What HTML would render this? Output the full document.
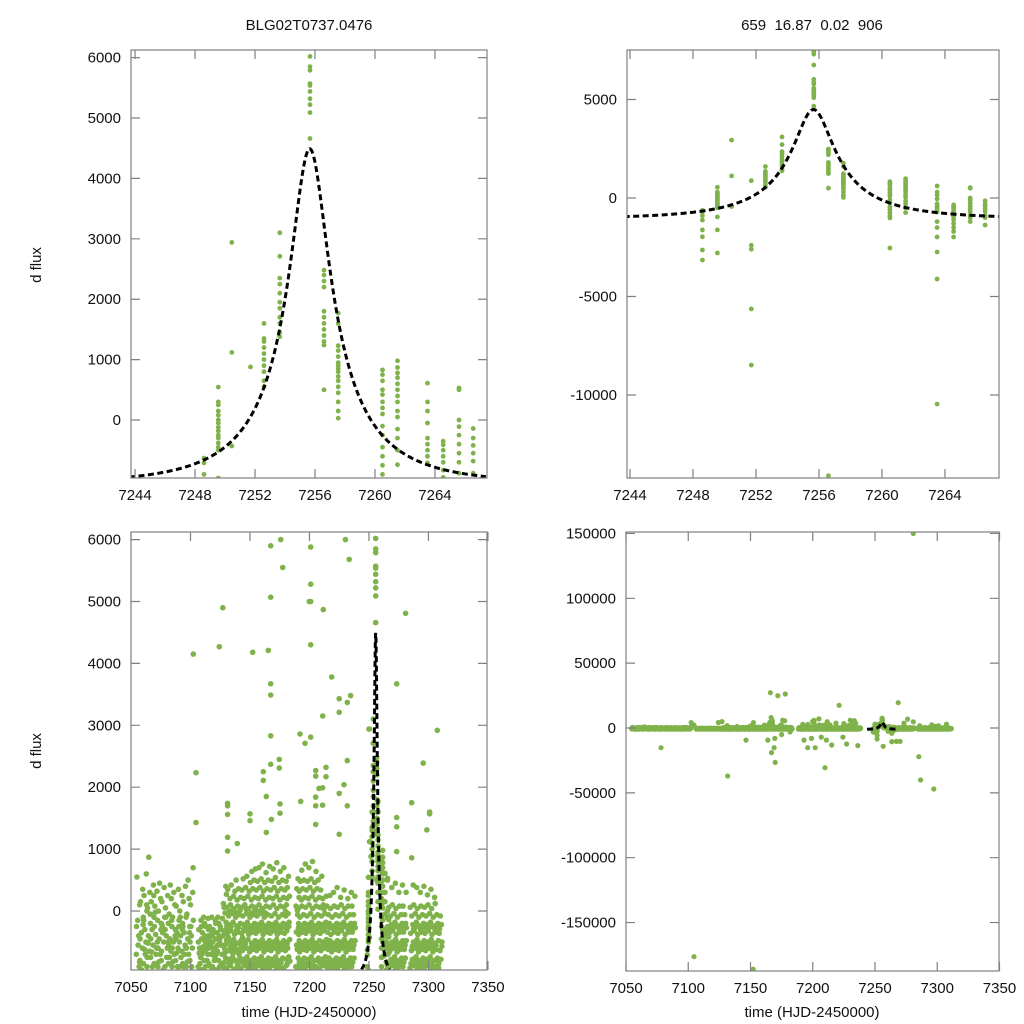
<!DOCTYPE html>
<html><head><meta charset="utf-8"><title>BLG02T0737.0476</title>
<style>
html,body{margin:0;padding:0;background:#fff;overflow:hidden;width:1024px;height:1024px;}
svg{display:block;font-family:"Liberation Sans",Arial,sans-serif;}
</style></head>
<body>
<svg id="chart" width="1024" height="1024" viewBox="0 0 1024 1024" xmlns="http://www.w3.org/2000/svg">
<rect x="0" y="0" width="1024" height="1024" fill="#fff"/>
<text x="309" y="30" text-anchor="middle" font-size="15" fill="#111">BLG02T0737.0476</text>
<text x="812" y="30" text-anchor="middle" font-size="15" fill="#111" xml:space="preserve">659  16.87  0.02  906</text>
<text transform="translate(41,265) rotate(-90)" text-anchor="middle" font-size="15" fill="#111">d flux</text>
<text transform="translate(41,751) rotate(-90)" text-anchor="middle" font-size="15" fill="#111">d flux</text>
<text x="309" y="1017" text-anchor="middle" font-size="15" fill="#111">time (HJD-2450000)</text>
<text x="812" y="1017" text-anchor="middle" font-size="15" fill="#111">time (HJD-2450000)</text>
</svg>
<script>
// ---------- data ----------
const eventTimes = [7248.6,7249.55,7250.45,7251.7,7252.6,7253.65,7255.67,7256.6,7257.55,7260.5,7261.5,7263.5,7264.55,7265.6,7266.55];
const eventFlux = [
 [-630,-710,-900,-1120,-1620,-1970,-2640,-3150],
 [545,300,250,150,80,0,-50,-120,-180,-250,-300,-380,-450,-500,-960,-1620,-2790],
 [2940,1120,-430],
 [880,-2400,-2600,-5630,-8480],
 [1600,1350,1300,1200,1100,1000,900,800,650,550],
 [3100,2710,2350,2250,2100,1950,1850,1700,1600,1450,1380],
 [7500,7420,7300,6750,6020,5850,5790,5570,5540,5440,5320,5220,5090,4660],
 [2480,2400,2300,2200,1800,1700,1600,1500,1400,1300,1240,500,-14100],
 [1770,1600,1230,1150,1050,950,900,850,800,720,650,550,450,300,150,30],
 [830,750,650,500,420,300,200,100,-100,-250,-450,-600,-750,-900,-1010,-2540],
 [980,870,780,700,600,500,400,300,150,50,-150,-300,-500,-740],
 [610,300,150,-50,-300,-400,-500,-600,-710,-1200,-1500,-1980,-2740,-4110,-10460],
 [-350,-410,-500,-600,-700,-830,-950,-1100,-1300,-1500,-1700,-1980],
 [530,500,0,-110,-250,-400,-550,-700,-880,-1000,-1200],
 [-140,-300,-420,-550,-680,-880,-1000,-1370]
];
const seasonTimes = [7056,7059,7062,7065,7068,7071,7074,7077,7080,7083,7086,7089,7092,7095,7098,7101,
 7108,7111,7114,7117,7120,7123,7126,
 7129,7132,7135,7138,7141,7144,7147,7150,7153,7156,7159,7162,7165,7168,7171,7174,7177,7180,7182,
 7190,7192,7195,7198,7201,7204,7207,7210,7213,
 7216,7219,7222,7225,7228,7231,7234,7237,
 7268,7271,7274,7277,7280,
 7286,7289,7292,7295,7298,7301,7304,7307,7310,7313];
const seasonFlux = [
 [-700,-400,-150,100,550,-900,-550,-250,-820],
 [-800,-600,-350,-100,150,350,-950,-450,-220],
 [-850,-500,-300,0,250,600,-700,-150,100,-620],
 [-900,-650,-400,-200,50,300,870,-750,-50,-520],
 [-750,-550,-300,-100,150,420,-900,-450,250,-660],
 [-850,-600,-380,-150,80,320,-700,-250,-500,-20],
 [-900,-700,-450,-200,0,200,450,-600,-300,-820],
 [-800,-500,-350,-100,150,380,-950,-650,-15200,-240],
 [-900,-600,-400,-200,50,250,-750,-300,-500,-100],
 [-850,-650,-450,-250,-50,200,420,-550,-150,-750],
 [-900,-700,-500,-300,-100,100,300,-600,-400,-820],
 [-800,-600,-350,-150,80,350,-900,-450,-250,-680],
 [-900,-650,-400,-200,0,250,-750,-500,-300,-100],
 [-850,-550,-350,-100,150,400,-700,-250,-600,-900],
 [-900,-700,-450,-250,-50,200,500,-600,-350,-820],
 [-800,-600,-400,-150,100,300,-900,-500,700,-250],
 [-900,-750,-600,-450,-300,-150,-850,-500,-250,-680],
 [-950,-800,-650,-500,-350,-200,-100,-700,-400,-580],
 [-900,-700,-550,-400,-250,-120,-800,-450,-300,-620],
 [-850,-700,-550,-400,-250,-100,-900,-600,-350,-480],
 [-900,-750,-600,-450,-300,-150,-800,-500,-200,-660],
 [-950,-800,-650,-500,-350,-200,-100,-700,-400,-560],
 [-900,-700,-550,-400,-250,-120,-850,-450,4900,-300],
 [-900,-760,-610,-470,-320,-180,-30,120,270,-830,-540,-250,60,400,-680],
 [-920,-780,-640,-500,-360,-220,-80,60,200,350,-850,-570,-290,-10,-430],
 [-880,-740,-600,-460,-320,-180,-40,100,240,420,-810,-530,-250,30,-660],
 [-940,-800,-660,-520,-380,-240,-100,40,180,320,500,-870,-590,-310,-20],
 [-900,-760,-620,-480,-340,-200,-60,80,220,360,-830,-550,-270,10,-700],
 [-920,-780,-640,-500,-360,-220,-80,60,200,340,520,-850,-570,-290,-430],
 [-880,-740,-600,-460,-320,-180,-40,100,240,380,560,-810,-530,-250,30],
 [-940,-800,-660,-520,-380,-240,-100,40,180,320,460,640,-870,-590,-310,-30],
 [-900,-760,-620,-480,-340,-200,-60,80,220,360,500,680,-830,-550,-270,10],
 [-920,-780,-640,-500,-360,-220,-80,60,200,340,480,700,-850,-570,-290,-10],
 [-880,-740,-600,-460,-320,-180,-40,100,240,380,520,760,-810,-530,-250,30],
 [-940,-800,-660,-520,-380,-240,-100,40,180,320,460,620,-870,-590,-310,-30],
 [-900,-760,-620,-480,-340,-200,-60,80,220,360,500,720,-830,-550,-270,27200,-9300],
 [-920,-780,-640,-500,-360,-220,-80,60,200,340,480,680,-850,-570,-290,-15200,-19000,8000],
 [-880,-740,-600,-460,-320,-180,-40,100,240,380,540,780,-810,-530,-250,24900,-26500,-8000],
 [-940,-800,-660,-520,-380,-240,-100,40,180,320,460,640,-870,-590,-310,-5000],
 [-900,-760,-620,-480,-340,-200,-60,80,220,360,500,700,-830,-550,-270,26200,6000],
 [-920,-780,-640,-500,-360,-220,-80,60,200,340,480,-850,-570,-290,-10],
 [-880,-740,-600,-460,-320,-180,-40,100,240,380,560,-810,-530,-250,-3000],
 [-900,-760,-620,-480,-340,-200,-60,80,220,360,520,-830,-550,-270,10],
 [-940,-800,-660,-520,-380,-240,-100,40,180,320,480,660,-870,-590,-310,-9300],
 [-900,-760,-620,-480,-340,-200,-60,80,220,360,500,760,-830,-550,-270,-15200],
 [-920,-780,-640,-500,-360,-220,-80,60,200,340,480,700,-850,-570,-290,-8000],
 [-880,-740,-600,-460,-320,-180,-40,100,240,380,520,800,-810,-530,-250,-15200,5000],
 [-940,-800,-660,-520,-380,-240,-100,40,180,320,460,640,-870,-590,-310,7000],
 [-900,-760,-620,-480,-340,-200,-60,80,220,360,500,-830,-550,-270,-7000],
 [-920,-780,-640,-500,-360,-220,-80,60,200,340,560,-850,-570,-290,-30600,-9300],
 [-880,-740,-600,-460,-320,-180,-40,100,240,-810,-530,-250,30],
 [-900,-760,-620,-480,-340,-200,-60,80,250,-830,-550,-270,-13100],
 [-940,-800,-660,-520,-380,-240,-100,40,300,-870,-590,-310],
 [-900,-760,-620,-480,-340,-200,-60,80,380,-830,-550,-270,17500],
 [-920,-780,-640,-500,-360,-220,-80,60,220,-850,-570,-290,-7000],
 [-880,-740,-600,-460,-320,-180,-40,100,340,-810,-530,-250,-12300],
 [-940,-800,-660,-520,-380,-240,-100,40,200,-870,-590,-310,6000],
 [-900,-760,-620,-480,-340,-200,-60,80,300,-830,-550,-270],
 [-900,-760,-620,-480,-340,-200,-60,80,240,-830,-550,-270,-13600],
 [-920,-780,-640,-500,-360,-220,-80,60,380,-850,-570,-290,-10300,19500],
 [-880,-740,-600,-460,-320,-180,-40,100,450,-810,-530,-250,-10300],
 [-940,-800,-660,-520,-380,-240,-100,40,300,-870,-590,-310],
 [-900,-760,-620,-480,-340,-200,-60,80,420,-830,-550,-270,6900],
 [-900,-760,-620,-480,-340,-200,-60,80,300,-830,-550,-270],
 [-920,-780,-640,-500,-360,-220,-80,60,420,-850,-570,-290,-22100,-40100],
 [-880,-740,-600,-460,-320,-180,-40,100,380,-810,-530,-250],
 [-940,-800,-660,-520,-380,-240,-100,40,300,-870,-590,-310],
 [-900,-760,-620,-480,-340,-200,-60,80,400,-830,-550,-270],
 [-920,-780,-640,-500,-360,-220,-80,60,260,-850,-570,-290,-47000],
 [-880,-740,-600,-460,-320,-180,-40,100,350,-810,-530,-250],
 [-940,-800,-660,-520,-380,-240,-100,40,220,-870,-590,-310],
 [-900,-760,-620,-480,-340,-200,-60,120,-830,-550,-270],
 [-920,-780,-640,-500,-360,-220,-80,-850,-570,-290]
];
const outlierTimes = [7102.4,7104.6,7104.6,7124.2,7152.3,7165.4,7167.4,7167.4,7167.4,7167.4,7167.4,7167.4,7177.5,7161.2,7161.2,7163.7,7174.6,7174.6,7131.2,7131.2,7131.2,7131.2,7131.2,7139.3,7150,7150,7175.2,7175.2,7168,7163.7,7192,7196.2,7192.6,7201,7201,7201,7201,7201,7211.6,7205.2,7205.2,7213.9,7213.9,7208,7211,7205.2,7205.2,7211,7205.2,7218.7,7211.1,7225,7225,7231.8,7234.6,7233.4,7231.8,7229,7225,7231.8,7225,7250,7273.3,7280.8,7307.4,7295.6,7285.9,7273.3,7273.3,7301,7301,7298.6,7273.3,7285.9,7280.8,7104.6,7152.2,7131.7,7146.4];
const outlierFlux = [4150,2235,1430,4270,4180,4210,5900,5070,3670,3490,2830,2370,5550,2250,2110,1850,2450,2310,1740,1560,1700,1190,970,1090,1570,1460,1730,1580,1480,1270,2860,2710,1770,5880,5280,5000,4300,2810,4870,2270,2180,2320,2170,1980,1990,1840,1700,1710,1400,3780,3150,3430,3210,3370,3480,5680,2430,2040,1900,1700,1240,2940,3670,4810,2920,2390,1750,1510,1360,1600,1570,1310,960,860,150000,-176300,-186000,-37000,-9300];
// model: Paczynski fit parameters
const modelT0 = 7255.65, modelU0 = 0.2, modelTE = 6.6, modelFs = 1360, modelBase = -1050;
const modelRange = [7243.6, 7267.4];
// tick labels
const zoomXTicks = [7244,7248,7252,7256,7260,7264];
const tlYTicks = [0,1000,2000,3000,4000,5000,6000];
const trYTicks = [-10000,-5000,0,5000];
const fullXTicks = [7050,7100,7150,7200,7250,7300,7350];
const blYTicks = [0,1000,2000,3000,4000,5000,6000];
const brYTicks = [-150000,-100000,-50000,0,50000,100000,150000];

// ---------- drawing ----------
const NS = 'http://www.w3.org/2000/svg';
const svg = document.getElementById('chart');
function mk(tag, attrs, parent){ const e = document.createElementNS(NS, tag); for (const k in attrs) e.setAttribute(k, attrs[k]); (parent||svg).appendChild(e); return e; }
function lin(d0,d1,r0,r1){ return v => r0 + (v-d0)/(d1-d0)*(r1-r0); }
function modelFlux(t){ const tau=(t-modelT0)/modelTE; const u=Math.sqrt(modelU0*modelU0+tau*tau); const A=(u*u+2)/(u*Math.sqrt(u*u+4)); return modelBase + modelFs*(A-1); }

const panels = [
 {id:'top-left', xd:[7243.73,7267.47], xr:[131,487], yd:[-960,6126], yr:[478,50], xt:zoomXTicks, yt:tlYTicks, full:false, r:2.4},
 {id:'top-right', xd:[7243.81,7267.43], xr:[627,999], yd:[-14213,7513], yr:[478,50], xt:zoomXTicks, yt:trYTicks, full:false, r:2.4},
 {id:'bottom-left', xd:[7050,7349.2], xr:[131,487], yd:[-953,6123], yr:[970,532], xt:fullXTicks, yt:blYTicks, full:true, r:2.8},
 {id:'bottom-right', xd:[7050,7349.6], xr:[626,999], yd:[-187355,151118], yr:[971,532], xt:fullXTicks, yt:brYTicks, full:true, r:2.6}
];
// small visual spread (px) of same-night points across the strip
const spreadPx = [-1.8,0.6,-0.4,1.6,-1.2,1.0,0.0,-1.6,1.4,-0.8,0.4,1.8,-1.0,0.8,-0.2,1.2,-1.4];

panels.forEach((p, pi) => {
  const sx = lin(p.xd[0],p.xd[1],p.xr[0],p.xr[1]);
  const sy = lin(p.yd[0],p.yd[1],p.yr[0],p.yr[1]);
  const x0=p.xr[0], x1=p.xr[1], yTop=p.yr[1], yBot=p.yr[0];
  const g = mk('g', {});
  
  
  const cp = mk('clipPath', {id:'clip'+pi}, g);
  mk('rect', {x:x0, y:yTop, width:x1-x0, height:yBot-yTop}, cp);
  const plot = mk('g', {'clip-path':'url(#clip'+pi+')'}, g);
  
  
  const dots = mk('g', {fill:'#7fb24a'}, plot);
  
  
  function dot(t, f, off){
    const c = mk('circle', {cx:(sx(t)+(off||0)).toFixed(1), cy:sy(f).toFixed(1), r:p.r}, dots);
    
    
  }
  if (p.full){
    seasonTimes.forEach((t,i) => (seasonFlux[i]||[]).forEach((f,j) => dot(t, f, spreadPx[j % spreadPx.length])));
    outlierTimes.forEach((t,i) => { if (outlierFlux[i] !== undefined) dot(t, outlierFlux[i], 0); });
  }
  eventTimes.forEach((t,i) => (eventFlux[i]||[]).forEach(f => dot(t, f, 0)));
  // model curve
  let d = '';
  const n = 300;
  for (let k=0;k<=n;k++){
    const t = modelRange[0] + (modelRange[1]-modelRange[0])*k/n;
    d += (k?'L':'M') + sx(t).toFixed(2) + ',' + sy(modelFlux(t)).toFixed(2);
  }
  const ml = mk('path', {d:d, fill:'none', stroke:'#000', 'stroke-width':3, 'stroke-dasharray':'6,3.5'}, plot);
  
  
  // frame
  const fr = mk('rect', {x:x0, y:yTop, width:x1-x0, height:yBot-yTop, fill:'none', stroke:'#808080', 'stroke-width':1.2}, g);
  
  
  const TL = 9;
  p.xt.forEach(v => {
    const x = sx(v);
    const tk = mk('path', {d:'M'+x+','+yBot+'v'+(-TL)+'M'+x+','+yTop+'v'+TL, stroke:'#808080', 'stroke-width':1.2}, g);
    
    
    const lb = mk('text', {x:x, y:yBot+22, 'text-anchor':'middle', 'font-size':15, fill:'#111'}, g);
    lb.textContent = String(v);
    
    
  });
  p.yt.forEach(v => {
    const y = sy(v);
    const tk = mk('path', {d:'M'+x0+','+y+'h'+TL+'M'+x1+','+y+'h'+(-TL), stroke:'#808080', 'stroke-width':1.2}, g);
    
    
    const lb = mk('text', {x:x0-10, y:y+5, 'text-anchor':'end', 'font-size':15, fill:'#111'}, g);
    lb.textContent = String(v);
    
    
  });
});
</script>
</body></html>
